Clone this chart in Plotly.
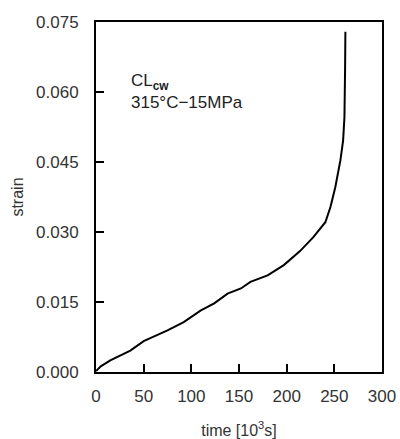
import plotly.graph_objects as go

# creep curve, time in 10^3 s
time = [0, 5, 15, 36, 50, 75, 92, 110, 124, 138, 152, 162, 180, 197, 214,
        228, 240.6, 246, 251, 256.4, 259.2, 260.6, 261.3, 261.6]
strain = [0.0002, 0.0012, 0.0025, 0.0046, 0.0066, 0.0089, 0.0107, 0.0132, 0.0147,
          0.0168, 0.0179, 0.0193, 0.0207, 0.0229, 0.0259,
          0.0289, 0.0321, 0.0354, 0.0396, 0.0454, 0.0496, 0.0546, 0.0654, 0.0729]

x_ticks = [0, 50, 100, 150, 200, 250, 300]
y_ticks = [0.0, 0.015, 0.030, 0.045, 0.060, 0.075]
y_labels = ["0.000", "0.015", "0.030", "0.045", "0.060", "0.075"]

fam = "Liberation Sans, Arial"
font = dict(family=fam, size=17, color="#333")

fig = go.Figure()
fig.add_trace(go.Scatter(x=time, y=strain, mode="lines",
                         line=dict(color="black", width=2), showlegend=False))

fig.update_xaxes(range=[0, 300], tickvals=x_ticks, ticks="inside", ticklen=8,
                 tickwidth=1.5, tickcolor="black", showline=True, linecolor="black",
                 linewidth=2, mirror=True, showgrid=False, zeroline=False,
                 tickfont=font, ticklabelstandoff=8, automargin=False,
                 title=dict(text="time [10<sup>3</sup>s]",
                            font=dict(family=fam, size=16, color="#333"), standoff=20))
fig.update_yaxes(range=[0, 0.075], tickvals=y_ticks, ticktext=y_labels, ticks="inside",
                 ticklen=8, tickwidth=1.5, tickcolor="black", showline=True,
                 linecolor="black", linewidth=2, mirror=True, showgrid=False,
                 zeroline=False, tickfont=font, ticklabelstandoff=12, automargin=False,
                 title=dict(text="strain", font=dict(family=fam, size=16, color="#333"),
                            standoff=8))

fig.add_annotation(x=35, y=0.0602, xref="x", yref="y", showarrow=False,
                   xanchor="left", yanchor="middle", align="left",
                   text="CL<sub><b>cw</b></sub><br>315°C−15MPa",
                   font=dict(family=fam, size=17, color="#222"))

fig.update_layout(width=400, height=439, plot_bgcolor="white", paper_bgcolor="white",
                  margin=dict(l=96, r=18, t=22, b=67))

fig.write_html("out.html", config={"displayModeBar": False},
               post_script="document.body.style.margin='0';")
